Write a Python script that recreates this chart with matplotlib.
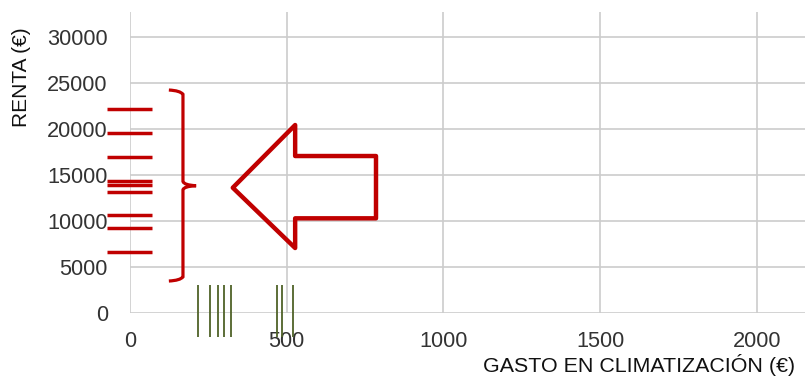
import matplotlib.pyplot as plt
from matplotlib.patches import Polygon, PathPatch
from matplotlib.path import Path

plt.rcParams['font.family'] = ['Liberation Sans', 'DejaVu Sans']

# Income values (y rug, red) and air-conditioning spending (x rug, green)
renta = [22100, 19600, 16900, 14300, 13900, 13100, 10700, 9200, 6700]
gasto = [218, 255, 282, 299, 322, 469, 486, 519]

x_ticks = [0, 500, 1000, 1500, 2000]
y_ticks = [0, 5000, 10000, 15000, 20000, 25000, 30000]

fig = plt.figure(figsize=(8.05, 3.86), dpi=100)
ax = fig.add_axes([0.1615, 0.1883, 0.8385, 0.7813])

ax.set_xlim(0, 2154)
ax.set_ylim(0, 32700)
ax.set_xticks(x_ticks)
ax.set_yticks(y_ticks)
ax.grid(True, color='#cccccc', linewidth=1.2)
ax.set_axisbelow(True)
for s in ax.spines.values():
    s.set_visible(False)
ax.tick_params(length=0, labelsize=15.7, colors='#333333')
ax.tick_params(axis='y', pad=16)
ax.tick_params(axis='x', pad=13)

# rug marks
ax.hlines(renta, -73, 70, colors='#c00000', linewidth=2.5, clip_on=False, zorder=3)
ax.vlines(gasto, -2570, 3070, colors='#4f6228', linewidth=1.3, clip_on=False, zorder=3)

# curly bracket next to the income rug
brace = [(124, 24211), (160, 24150), (169, 23750), (169, 14300),
         (172, 13900), (211, 13835), (172, 13770), (169, 13400),
         (169, 3950), (160, 3560), (124, 3502)]
codes = [Path.MOVETO, Path.CURVE3, Path.CURVE3, Path.LINETO,
         Path.CURVE3, Path.CURVE3, Path.CURVE3, Path.CURVE3,
         Path.LINETO, Path.CURVE3, Path.CURVE3]
ax.add_patch(PathPatch(Path(brace, codes), fill=False, edgecolor='#c00000',
                       linewidth=2.3, clip_on=False, zorder=4))

# big left arrow outline
arrow = [(328, 13618), (527, 20417), (527, 17055), (785, 17055),
         (785, 10300), (527, 10300), (527, 7080)]
ax.add_patch(Polygon(arrow, closed=True, fill=False, edgecolor='#c00000',
                     linewidth=3.2, joinstyle='round', zorder=4))

fig.text(0.988, 0.037, 'GASTO EN CLIMATIZACIÓN (€)', ha='right', va='baseline',
         fontsize=15.4, color='#111111')
fig.text(0.027, 0.80, 'RENTA (€)', rotation=90, ha='center', va='center',
         fontsize=15, color='#111111')

fig.savefig('out.png', dpi=100)
